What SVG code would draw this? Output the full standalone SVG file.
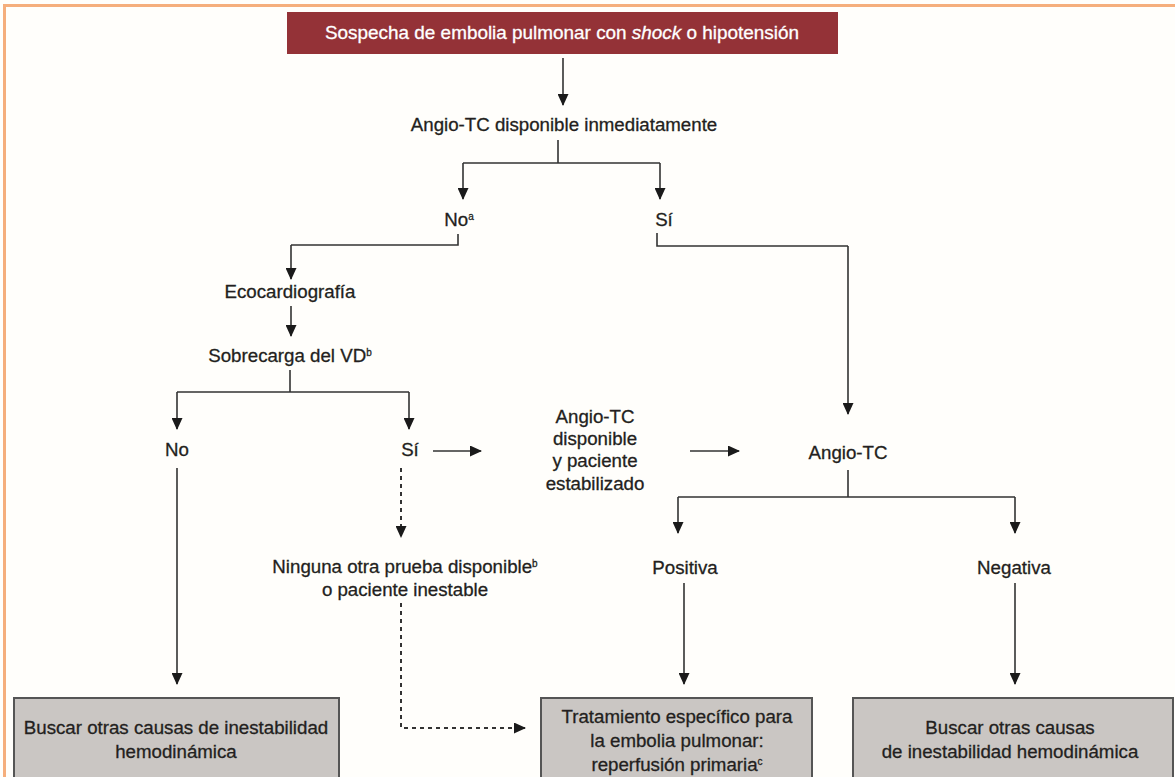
<svg xmlns="http://www.w3.org/2000/svg" width="1175" height="777" viewBox="0 0 1175 777">
<defs>
<marker id="ah" markerWidth="12" markerHeight="11" refX="11" refY="5.5" orient="auto" markerUnits="userSpaceOnUse">
<path d="M0,0 L12,5.5 L0,11 Z" fill="#1a1a1a"/>
</marker>
</defs>
<style>
.t{font-family:"Liberation Sans",Arial,sans-serif;font-size:18.7px;fill:#231f20;stroke:#231f20;stroke-width:0.3;text-anchor:middle}
.w{font-family:"Liberation Sans",Arial,sans-serif;font-size:18.5px;fill:#ffffff;stroke:#ffffff;stroke-width:0.3;text-anchor:middle}
.ln{fill:none;stroke:#333;stroke-width:1.6}
.ar{fill:none;stroke:#333;stroke-width:1.6;marker-end:url(#ah)}
.dash{fill:none;stroke:#333;stroke-width:2;stroke-dasharray:4,4}
.box{fill:#cac6c3;stroke:#555;stroke-width:2}
.sup{font-size:10px}
</style>
<rect x="0" y="0" width="1175" height="777" fill="#fffefb"/>
<path d="M4.5,777 V5.5 H1175" fill="none" stroke="#f5ae7c" stroke-width="3"/>

<g id="n-start">
<rect x="287" y="12" width="551" height="42" fill="#943237"/>
<text class="w" x="562" y="39" textLength="474" lengthAdjust="spacingAndGlyphs">Sospecha de embolia pulmonar con <tspan font-style="italic">shock</tspan> o hipotensión</text>
</g>
<g id="n-angio-inm"><text class="t" x="564" y="131">Angio-TC disponible inmediatamente</text></g>
<g id="n-no1"><text class="t" x="459" y="226">No<tspan class="sup" dy="-6">a</tspan></text></g>
<g id="n-si1"><text class="t" x="664" y="226">Sí</text></g>
<g id="n-eco"><text class="t" x="290" y="298">Ecocardiografía</text></g>
<g id="n-sobre"><text class="t" x="290" y="362">Sobrecarga del VD<tspan class="sup" dy="-6">b</tspan></text></g>
<g id="n-no2"><text class="t" x="177" y="456">No</text></g>
<g id="n-si2"><text class="t" x="410" y="456">Sí</text></g>
<g id="n-estab">
<text class="t" x="595" y="423">Angio-TC</text>
<text class="t" x="595" y="445">disponible</text>
<text class="t" x="595" y="467">y paciente</text>
<text class="t" x="595" y="490">estabilizado</text>
</g>
<g id="n-angio"><text class="t" x="848" y="459">Angio-TC</text></g>
<g id="n-ninguna">
<text class="t" x="405" y="573">Ninguna otra prueba disponible<tspan class="sup" dy="-6">b</tspan></text>
<text class="t" x="405" y="596">o paciente inestable</text>
</g>
<g id="n-pos"><text class="t" x="685" y="574">Positiva</text></g>
<g id="n-neg"><text class="t" x="1014" y="574">Negativa</text></g>
<g id="n-buscar1">
<rect class="box" x="14" y="698" width="325" height="90"/>
<text class="t" x="176" y="734">Buscar otras causas de inestabilidad</text>
<text class="t" x="176" y="758">hemodinámica</text>
</g>
<g id="n-trat">
<rect class="box" x="541" y="698" width="271" height="90"/>
<text class="t" x="677" y="723">Tratamiento específico para</text>
<text class="t" x="677" y="747">la embolia pulmonar:</text>
<text class="t" x="677" y="771">reperfusión primaria<tspan class="sup" dy="-6">c</tspan></text>
</g>
<g id="n-buscar2">
<rect class="box" x="853" y="698" width="320" height="90"/>
<text class="t" x="1010" y="734">Buscar otras causas</text>
<text class="t" x="1010" y="758">de inestabilidad hemodinámica</text>
</g>

<g id="connectors">
<path class="ar" d="M563,58 V105"/>
<path class="ln" d="M558,140 V163 M463,163 H660"/>
<path class="ar" d="M463,163 V199"/>
<path class="ar" d="M660,163 V199"/>
<path class="ln" d="M458,234 V245 H291"/>
<path class="ar" d="M291,245 V279"/>
<path class="ln" d="M657,233 V246 H848"/>
<path class="ar" d="M848,246 V414"/>
<path class="ar" d="M291,306 V336"/>
<path class="ln" d="M290,370 V392 M177,392 H409"/>
<path class="ar" d="M177,392 V429"/>
<path class="ar" d="M409,392 V429"/>
<path class="ar" d="M433,451 H481"/>
<path class="ar" d="M690,451 H739"/>
<path class="ln" d="M848,470 V497 M678,497 H1015"/>
<path class="ar" d="M678,497 V533"/>
<path class="ar" d="M1015,497 V533"/>
<path class="ar" d="M684,583 V684"/>
<path class="ar" d="M1015,583 V684"/>
<path class="ar" d="M177,468 V684"/>
<path class="dash" d="M401,468 V537" marker-end="url(#ah)"/>
<path class="dash" d="M401,603 V728 H525" marker-end="url(#ah)"/>
</g>
</svg>
